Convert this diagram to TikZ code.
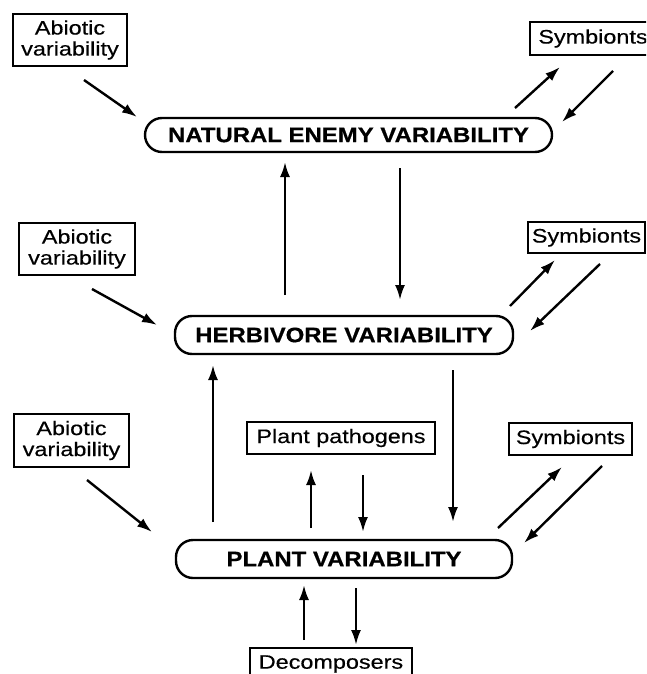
\documentclass[tikz,border=0pt]{standalone}
\usepackage{fontspec}
\usetikzlibrary{arrows.meta}
\newfontfamily\labfont[FakeStretch=1.2,FakeBold=0.4]{Liberation Sans}
\newfontfamily\bigfont[FakeStretch=1.14,FakeBold=0.6]{Liberation Sans Bold}
\tikzset{
  smallbox/.style={draw, line width=2.4pt, inner sep=0pt, align=center,
    font=\labfont\fontsize{19.5}{21}\selectfont},
  bigbox/.style={draw, line width=2.4pt, inner sep=0pt, rounded corners=17pt,
    font=\bigfont\fontsize{21}{24}\selectfont},
  conn/.style={line width=2.4pt, -{Latex[length=15pt,width=10pt]}}
}
\begin{document}
\begin{tikzpicture}[x=1pt,y=-1pt]
\useasboundingbox (0,0) rectangle (646,674);
\begin{scope}
\clip (0,0) rectangle (646,674);
% boxes
\node[smallbox, minimum width=114pt, minimum height=52pt] (ab1) at (70,40) {Abiotic\\variability};
\node[smallbox, minimum width=116pt, minimum height=52pt] (ab2) at (77,249) {Abiotic\\variability};
\node[smallbox, minimum width=115pt, minimum height=53pt] (ab3) at (71.5,440.5) {Abiotic\\variability};
\node[bigbox, minimum width=407pt, minimum height=34pt] (ne) at (348.5,135) {NATURAL ENEMY VARIABILITY};
\node[bigbox, minimum width=338pt, minimum height=38pt] (hv) at (344,335) {HERBIVORE VARIABILITY};
\node[bigbox, minimum width=336pt, minimum height=38pt] (pv) at (344,559) {PLANT VARIABILITY};
\node[smallbox, minimum width=126pt, minimum height=33pt] (sy1) at (593,38.5) {Symbionts};
\node[smallbox, minimum width=117pt, minimum height=31pt] (sy2) at (586.5,237.5) {Symbionts};
\node[smallbox, minimum width=123pt, minimum height=32pt] (sy3) at (570.5,439) {Symbionts};
\node[smallbox, minimum width=188pt, minimum height=32pt] (pp) at (341,438) {Plant pathogens};
\node[smallbox, minimum width=162pt, minimum height=32pt] (dec) at (331,664) {Decomposers};
\end{scope}
% arrow end points
\coordinate (a1s) at (84,80);   \coordinate (a1e) at (137,117);
\coordinate (a2s) at (515,108); \coordinate (a2e) at (560,67);
\coordinate (a3s) at (613,71);  \coordinate (a3e) at (562,122);
\coordinate (a4s) at (285,295); \coordinate (a4e) at (285,162);
\coordinate (a5s) at (400,168); \coordinate (a5e) at (400,300);
\coordinate (a6s) at (92,289);  \coordinate (a6e) at (157,325);
\coordinate (a7s) at (510,306); \coordinate (a7e) at (555,260);
\coordinate (a8s) at (600,264); \coordinate (a8e) at (530,331);
\coordinate (a9s) at (213,522); \coordinate (a9e) at (213,365);
\coordinate (a10s) at (453,370); \coordinate (a10e) at (453,522);
\coordinate (a11s) at (87,480); \coordinate (a11e) at (152,532);
\coordinate (a12s) at (311,528); \coordinate (a12e) at (311,470);
\coordinate (a13s) at (363,475); \coordinate (a13e) at (363,532);
\coordinate (a14s) at (498,528); \coordinate (a14e) at (562,467);
\coordinate (a15s) at (602,466); \coordinate (a15e) at (524,543);
\coordinate (a16s) at (304,640); \coordinate (a16e) at (304,585);
\coordinate (a17s) at (356,588); \coordinate (a17e) at (356,645);
\foreach \i in {1,...,17} { \draw[conn] (a\i s) -- (a\i e); }
\end{tikzpicture}
\end{document}
